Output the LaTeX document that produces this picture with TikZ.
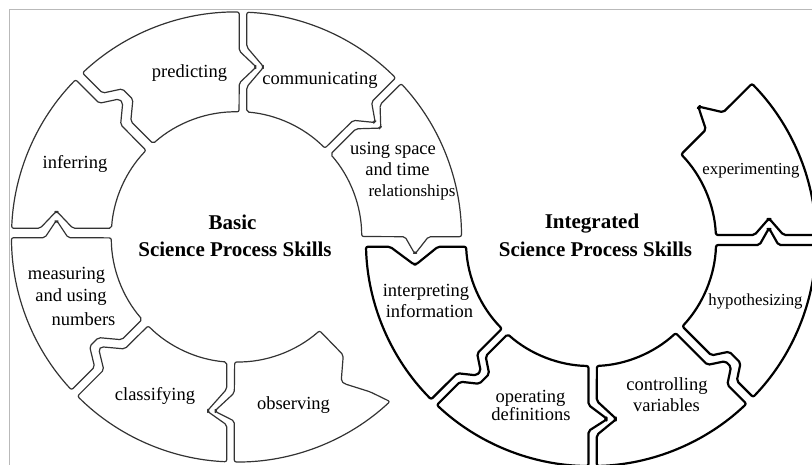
\documentclass[tikz,border=0pt]{standalone}
\usepackage{fontspec}
\setmainfont{Liberation Serif}
\usetikzlibrary{calc}
\newcommand\mkside[4]{%
  \begin{scope}[shift={(#2)},rotate=#3]
    \foreach \pu/\pv [count=\pk] in {#4}{\coordinate (#1-\pk) at (\pu,\pv);}
  \end{scope}}
\newcommand\mkpiece[7]{%
  \draw[#1] (#2-1) arc[start angle={#3+atan((#4)/225)}, end angle={#6+atan((#7)/225)}, radius=225bp]
    -- (#5-2) -- (#5-3) -- (#5-4) -- (#5-5) -- (#5-6)
    arc[start angle={#6+atan((#7)/125)}, end angle={#3+atan((#4)/125)}, radius=125bp]
    -- (#2-5) -- (#2-4) -- (#2-3) -- (#2-2) -- cycle;}
\begin{document}
\begin{tikzpicture}[x=1bp,y=1bp,
  lp/.style={draw=black!80, line width=1.2bp, rounded corners=2bp, line join=round},
  rp/.style={draw=black, line width=2.2bp, rounded corners=2bp, line join=round},
  lab/.style={inner sep=0pt, anchor=base, font=\fontsize{18.5bp}{22bp}\selectfont},
  labs/.style={inner sep=0pt, anchor=base, font=\fontsize{16.8bp}{20bp}\selectfont},
  ttl/.style={inner sep=0pt, anchor=base, font=\fontsize{21bp}{25bp}\selectfont\bfseries}]
\useasboundingbox (0,0) rectangle (812,465);
\clip (0,0) rectangle (812,465);
\draw[gray!55, line width=1bp] (9,0) -- (9,455) -- (812,455);
\coordinate (CL) at (236.5,228);
\coordinate (CR) at (591,224);
% left ring boundaries
\mkside{L90m}{CL}{90}{225/-10.3, 189.9/-10.3, 170.5/-26.8, 169.5/-26.8, 150.1/-10.3, 125/-10.3}
\mkside{L90p}{CL}{90}{225/-2.7, 186.1/-2.7, 170.5/-19.2, 169.5/-19.2, 153.9/-2.7, 125/-2.7}
\mkside{L135m}{CL}{135}{225/-7.1, 196.4/-7.1, 185.4/-24.1, 170.6/-24.1, 156.6/-7.1, 125/-7.1}
\mkside{L135p}{CL}{135}{225/2.5, 191.6/2.5, 180.6/-14.5, 175.4/-14.5, 161.4/2.5, 125/2.5}
\mkside{L180m}{CL}{180}{225/-8.7, 196.4/-8.7, 180.5/-25.4, 179.5/-25.4, 163.6/-8.7, 125/-8.7}
\mkside{L180p}{CL}{180}{225/0.7, 191.6/0.7, 180.5/-16, 179.5/-16, 168.4/0.7, 125/0.7}
\mkside{L225m}{CL}{225}{225/-8.5, 192.2/-8.5, 181.2/-26.5, 168.8/-26.5, 153.8/-8.5, 125/-8.5}
\mkside{L225p}{CL}{225}{225/0.1, 187.8/0.1, 176.8/-17.9, 173.2/-17.9, 158.2/0.1, 125/0.1}
\mkside{L270m}{CL}{270}{225/-9.8, 187.9/-9.8, 174.5/-28.8, 173.5/-28.8, 152.1/-9.8, 125/-9.8}
\mkside{L270p}{CL}{270}{225/-2.2, 184.1/-2.2, 174.5/-21.2, 173.5/-21.2, 155.9/-2.2, 125/-2.2}
\mkside{L315m}{CL}{315}{225/-7.8, 204/-15, 180/-27.5, 176/-27.9, 159/-8, 125/-7.5}
\mkside{L0p}{CL}{0}{225/0.3, 192/0.3, 179/-16.3, 178/-16.3, 168.5/0.3, 125/0.3}
\mkside{L45m}{CL}{45}{225/-8, 195/-8, 179.5/-24.5, 178.5/-24.5, 161/-8, 125/-8}
\mkside{L45p}{CL}{45}{225/0, 191/0, 179.5/-16.5, 178.5/-16.5, 165/0, 125/0}
% right ring boundaries
\mkside{R180p}{CR}{180}{225/5.7, 201/5.7, 177/23.5, 175/23.5, 153/5.7, 125/5.7}
\mkside{R225m}{CR}{225}{225/-1, 188/-1, 176/14, 170/14, 160/-1, 125/-1}
\mkside{R225p}{CR}{225}{225/7, 192/7, 180/22, 166/22, 156/7, 125/7}
\mkside{R270m}{CR}{270}{225/-2.5, 190/-2.5, 178.5/15.5, 177.5/15.5, 164/-2.5, 125/-2.5}
\mkside{R270p}{CR}{270}{225/5.8, 194/5.8, 178.5/24.8, 177.5/24.8, 160/5.8, 125/5.8}
\mkside{R315m}{CR}{315}{225/-5.2, 198/-5.2, 188/10, 180/10, 170/-5.2, 125/-5.2}
\mkside{R315p}{CR}{315}{225/4.2, 202/4.2, 192/19.5, 176/19.5, 166/4.2, 125/4.2}
\mkside{R0m}{CR}{0}{225/-4, 187.5/-4, 178.5/12, 177.5/12, 168.5/-4, 125/-4}
\mkside{R0p}{CR}{0}{225/6, 192.5/6, 178.5/22, 177.5/22, 163.5/6, 125/6}
\mkside{R45m}{CR}{45}{225/-2.5, 184.5/-2.5, 171.5/18.4, 170.5/18.4, 160/-2.5, 125/-2.5}
% left pieces
\mkpiece{lp}{L45p}{45}{0}{L90m}{90}{-10.3}
\mkpiece{lp}{L90p}{90}{-2.7}{L135m}{135}{-7.1}
\mkpiece{lp}{L135p}{135}{2.5}{L180m}{180}{-8.7}
\mkpiece{lp}{L180p}{180}{0.7}{L225m}{225}{-8.5}
\mkpiece{lp}{L225p}{225}{0.1}{L270m}{270}{-9.8}
\mkpiece{lp}{L270p}{270}{-2.2}{L315m}{315}{-7.8}
\mkpiece{lp}{L0p}{0}{0.3}{L45m}{45}{-8}
% right pieces
\mkpiece{rp}{R180p}{180}{5.7}{R225m}{225}{-1}
\mkpiece{rp}{R225p}{225}{7}{R270m}{270}{-2.5}
\mkpiece{rp}{R270p}{270}{5.8}{R315m}{315}{-5.2}
\mkpiece{rp}{R315p}{315}{4.2}{R0m}{360}{-4}
\mkpiece{rp}{R0p}{0}{6}{R45m}{45}{-2.5}
% labels
\node[lab] (tpred) at (189.5,387) {predicting};
\node[lab] (tcomm) at (320,380.5) {communicating};
\node[lab] (tinf) at (75,296.5) {inferring};
\node[lab] (tus1) at (393,310.5) {using space};
\node[lab] (tus2) at (397.5,289.5) {and time};
\node[lab, font=\fontsize{17bp}{20bp}\selectfont] (tus3) at (412,268.5) {relationships};
\node[ttl] (tbas1) at (232.5,235) {Basic};
\node[ttl] (tbas2) at (235,208.5) {Science Process Skills};
\node[lab] (tmea1) at (66.5,185) {measuring};
\node[lab] (tmea2) at (71,163) {and using};
\node[lab] (tmea3) at (83.5,139) {numbers};
\node[lab] (tcla) at (155,64.5) {classifying};
\node[lab] (tobs) at (293.5,55.5) {observing};
\node[ttl] (tint1) at (592,236) {Integrated};
\node[ttl] (tint2) at (595.5,208.5) {Science Process Skills};
\node[labs] (texp) at (751,290.5) {experimenting};
\node[labs] (thyp) at (755.5,159.5) {hypothesizing};
\node[lab] (tip1) at (426,168) {interpreting};
\node[lab] (tip2) at (429.5,147) {information};
\node[lab] (top1) at (530.5,62) {operating};
\node[lab] (top2) at (531,44) {definitions};
\node[lab] (tcv1) at (667,74) {controlling};
\node[lab] (tcv2) at (666.5,53) {variables};
\end{tikzpicture}
\end{document}
